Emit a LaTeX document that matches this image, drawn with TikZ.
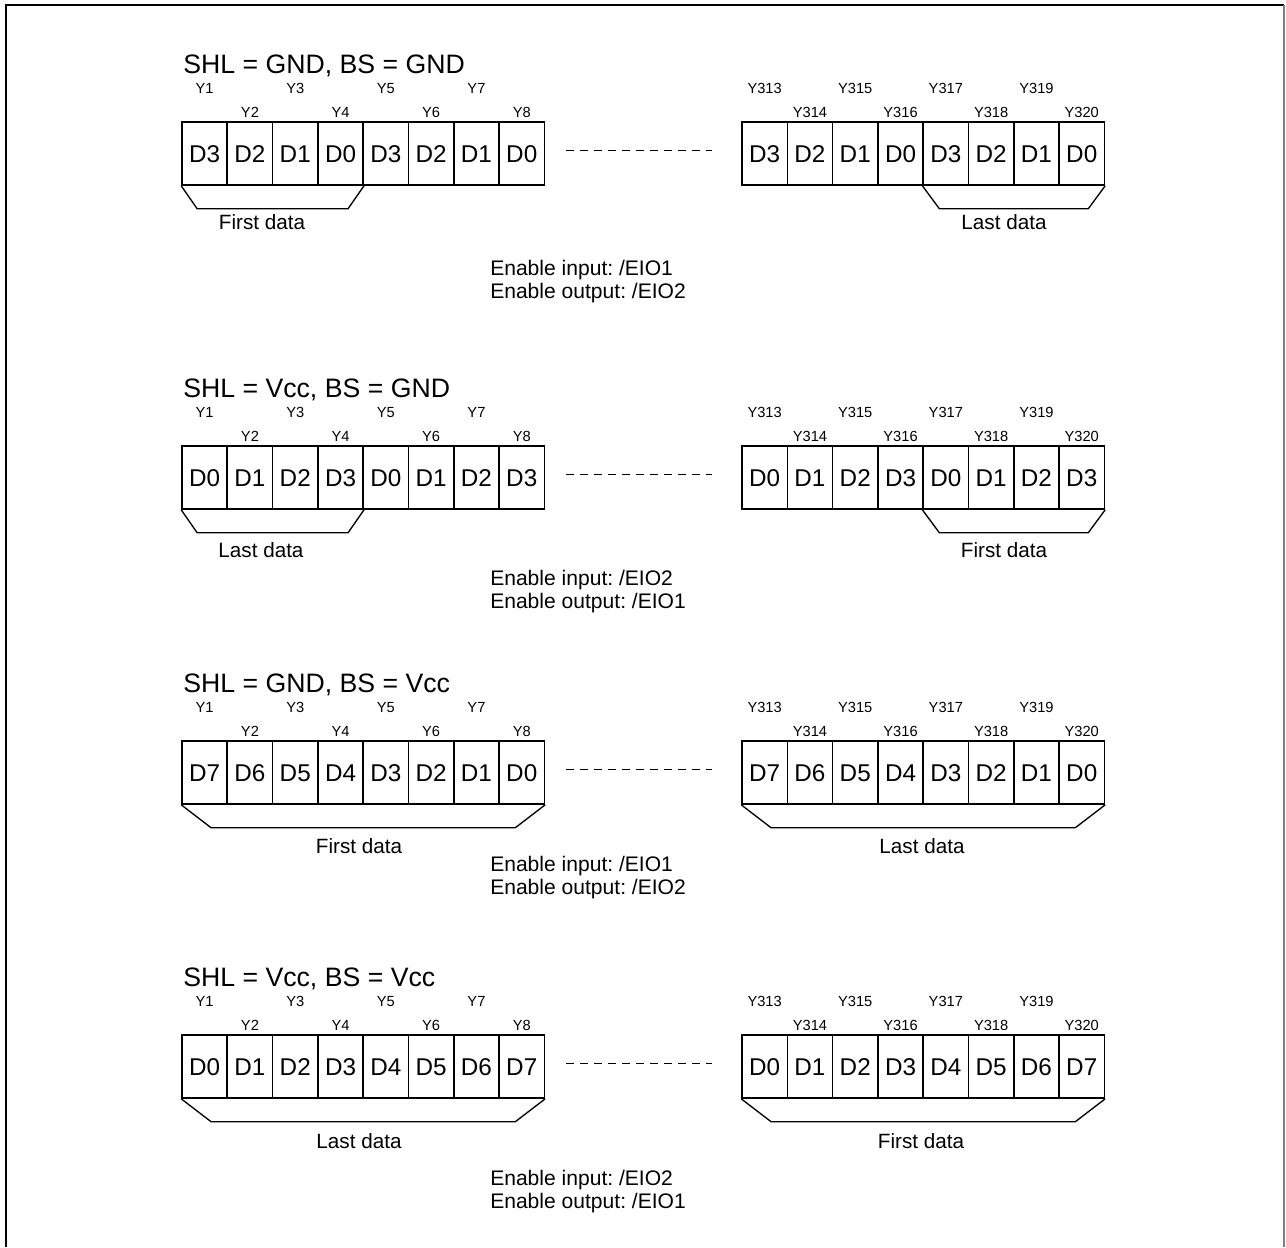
\documentclass[tikz,border=0pt]{standalone}
\usepackage{fontspec}
\setmainfont{Liberation Sans}
\usetikzlibrary{calc}
\frenchspacing

\begin{document}
\begin{tikzpicture}[x=0.75pt, y=-0.75pt,
    ttl/.style={font=\fontsize{20}{24}\selectfont, anchor=base west, inner sep=0pt},
    cell/.style={draw, line width=1.2pt, minimum width=33.98pt, minimum height=47.25pt,
                 inner sep=0pt, text height=13pt, text depth=0pt,
                 font=\fontsize{18.2}{22}\selectfont},
    ylab/.style={font=\fontsize{11}{13}\selectfont, inner sep=0pt,
                 text height=7.9pt, text depth=0pt},
    brk/.style={line width=1pt},
    blab/.style={font=\fontsize{15.5}{18}\selectfont, inner sep=0pt},
    note/.style={font=\fontsize{15.8}{17.25}\selectfont, align=left, anchor=west, inner sep=0pt}]

  \useasboundingbox (0,0) rectangle (1286,1247);

  % frame, open at the bottom
  \draw[line width=1.5pt] (6,1247) -- (6,5) -- (1284,5);
  \draw[gray, line width=1pt] (1284,5) -- (1284,1247);

  % the four panels: title, cells, pin labels, gap
  \foreach \p/\T/\ttltext/\seq in {%
    1/122/{SHL = GND, BS = GND}/{3,2,1,0,3,2,1,0},
    2/446/{SHL = Vcc, BS = GND}/{0,1,2,3,0,1,2,3},
    3/741/{SHL = GND, BS = Vcc}/{7,6,5,4,3,2,1,0},
    4/1035/{SHL = Vcc, BS = Vcc}/{0,1,2,3,4,5,6,7}}
  {
    \node[ttl] (t\p) at (183,\T-49) {\ttltext};
    \foreach \d [count=\i] in \seq {
      \node[cell] (l\p-\i) at (159.35+45.3*\i,\T+31.5) {D\d};
      \node[cell] (r\p-\i) at (719.35+45.3*\i,\T+31.5) {D\d};
      \pgfmathtruncatemacro\n{312+\i}
      \ifodd\i
        \node[ylab] (yl\p-\i) at (159.35+45.3*\i,\T-34) {Y\i};
        \node[ylab] (yr\p-\i) at (719.35+45.3*\i,\T-34) {Y\n};
      \else
        \node[ylab] (yl\p-\i) at (159.35+45.3*\i,\T-10) {Y\i};
        \node[ylab] (yr\p-\i) at (719.35+45.3*\i,\T-10) {Y\n};
      \fi
    }
    \draw[line width=1pt, dash pattern=on 6pt off 4.5pt]
      ($(l\p-8.east)+(21,-3)$) -- ($(r\p-1.west)+(-29,-3)$);
  }

  % brackets under the cells
  \foreach \s/\p/\a/\b/\ins/\lab/\lx/\ly in {%
    l/1/1/4/16/{First data}/262/222,
    r/1/5/8/17/{Last data}/1004/222,
    l/2/1/4/16/{Last data}/261/550,
    r/2/5/8/17/{First data}/1004/550,
    l/3/1/8/30/{First data}/359/846,
    r/3/1/8/30/{Last data}/922/846,
    l/4/1/8/30/{Last data}/359/1141,
    r/4/1/8/30/{First data}/921/1141}
  {
    \draw[brk] (\s\p-\a.south west) -- ++(\ins,23)
      -- ($(\s\p-\b.south east)+(-\ins,23)$) -- (\s\p-\b.south east);
    \node[blab] (b\s\p) at (\lx,\ly) {\lab};
  }

  % enable pins
  \foreach \p/\ei/\eo/\y in {1/1/2/281.5, 2/2/1/591.5, 3/1/2/877.5, 4/2/1/1191.5}
  {
    \node[note] (e\p) at (490,\y) {Enable input: /EIO\ei\\Enable output: /EIO\eo};
  }
\end{tikzpicture}
\end{document}
